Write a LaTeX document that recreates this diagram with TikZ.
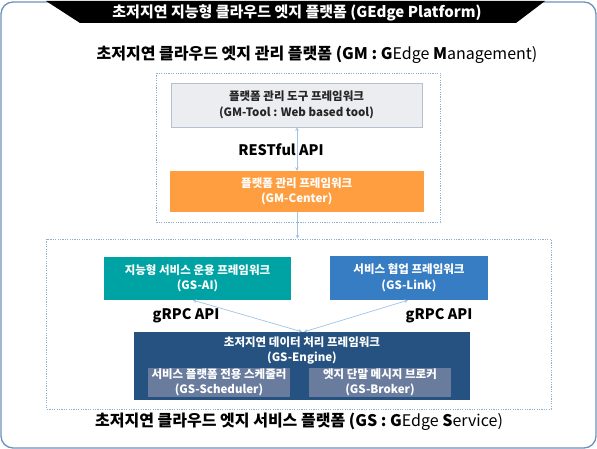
\documentclass[tikz,border=0pt]{standalone}
\usepackage{fontspec}
\setmainfont{Noto Sans CJK KR}
\usetikzlibrary{arrows.meta}
\definecolor{outerc}{RGB}{110,145,185}
\definecolor{dotc}{RGB}{140,175,210}
\definecolor{toolfill}{RGB}{236,237,240}
\definecolor{tooldraw}{RGB}{180,192,208}
\definecolor{orangec}{RGB}{255,158,64}
\definecolor{tealc}{RGB}{0,163,163}
\definecolor{linkc}{RGB}{55,125,195}
\definecolor{enginec}{RGB}{37,82,128}
\definecolor{subc}{RGB}{106,124,158}
\definecolor{connc}{RGB}{160,195,230}
\begin{document}
\begin{tikzpicture}[x=1pt,y=-1pt,
  boxtxt/.style={font=\fontsize{11.5}{15.5}\selectfont\bfseries, align=center, inner sep=0pt},
  apitxt/.style={font=\fontsize{14.5}{17}\selectfont\bfseries, inner sep=0pt},
  headtxt/.style={font=\fontsize{16}{19}\selectfont, inner sep=0pt},
  dotbox/.style={draw=dotc, line width=0.9pt, dash pattern=on 1.2pt off 1.2pt},
  conn/.style={draw=connc, line width=0.7pt},
  tip/.tip={Stealth[length=3.5pt,width=3.5pt]}
]
\useasboundingbox (0,0) rectangle (597,449);
% outer frame
\draw[outerc, line width=1.3pt, rounded corners=12pt] (1,2) rectangle (596,448);
% banner
\fill[black] (46,1) -- (545,1) -- (516,23) -- (80,23) -- cycle;
\node[font=\fontsize{15}{18}\selectfont\bfseries, text=white, inner sep=0pt] (title) at (297,13) {초저지연 지능형 클라우드 엣지 플랫폼 (GEdge Platform)};
% GM header
\node[headtxt] (gmhead) at (317,55) {\bfseries 초저지연 클라우드 엣지 관리 플랫폼 (GM : G\mdseries Edge \bfseries M\mdseries anagement)};
% GM dotted box
\draw[dotbox] (156.5,73) rectangle (440,222);
% GM-Tool
\node[boxtxt, fill=toolfill, draw=tooldraw, line width=0.8pt, minimum width=251pt, minimum height=44pt, text=black!85] (tool) at (296.5,105) {플랫폼 관리 도구 프레임워크\\(GM-Tool : Web based tool)};
% GM-Center
\node[boxtxt, fill=orangec, minimum width=253.5pt, minimum height=41pt, text=white] (center) at (296.75,191.5) {플랫폼 관리 프레임워크\\(GM-Center)};
\node[apitxt] (rest) at (281,150) {RESTful API};
% GS dotted box
\draw[dotbox] (46.5,239) rectangle (551,409);
\coordinate (gstop) at (297.5,238.5);
% GS-AI
\node[boxtxt, fill=tealc, minimum width=187pt, minimum height=43pt, text=white] (ai) at (197.5,278.5) {지능형 서비스 운용 프레임워크\\(GS-AI)};
% GS-Link
\node[boxtxt, fill=linkc, minimum width=158pt, minimum height=44pt, text=white] (link) at (409,278) {서비스 협업 프레임워크\\(GS-Link)};
% GS-Engine
\node[fill=enginec, minimum width=335.5pt, minimum height=68pt, inner sep=0pt] (engine) at (301.75,366) {};
\node[boxtxt, text=white] (enginetxt) at (302,350.5) {초저지연 데이터 처리 프레임워크\\(GS-Engine)};
\node[boxtxt, fill=subc, minimum width=142pt, minimum height=29pt, text=white] (sched) at (219,382.5) {서비스 플랫폼 전용 스케줄러\\(GS-Scheduler)};
\node[boxtxt, fill=subc, minimum width=142pt, minimum height=29pt, text=white] (broker) at (380,382.5) {엣지 단말 메시지 브로커\\(GS-Broker)};
\node[apitxt] (grpcl) at (186,316) {gRPC API};
\node[apitxt] (grpcr) at (439,316) {gRPC API};
% bottom label
\node[headtxt] (gshead) at (299,422) {\bfseries 초저지연 클라우드 엣지 서비스 플랫폼 (GS : G\mdseries Edge \bfseries S\mdseries ervice)};
% connectors
\draw[conn, {tip}-{tip}] (tool.south -| 297,0) -- (center.north -| 297,0);
\draw[conn, -{tip}] (center.south -| 297.5,0) -- (gstop);
\draw[conn, {tip}-{tip}] (ai.south -| 193,0) -- (engine.north -| 302,0);
\draw[conn, {tip}-{tip}] (link.south -| 408,0) -- (engine.north -| 304,0);
\end{tikzpicture}
\end{document}
